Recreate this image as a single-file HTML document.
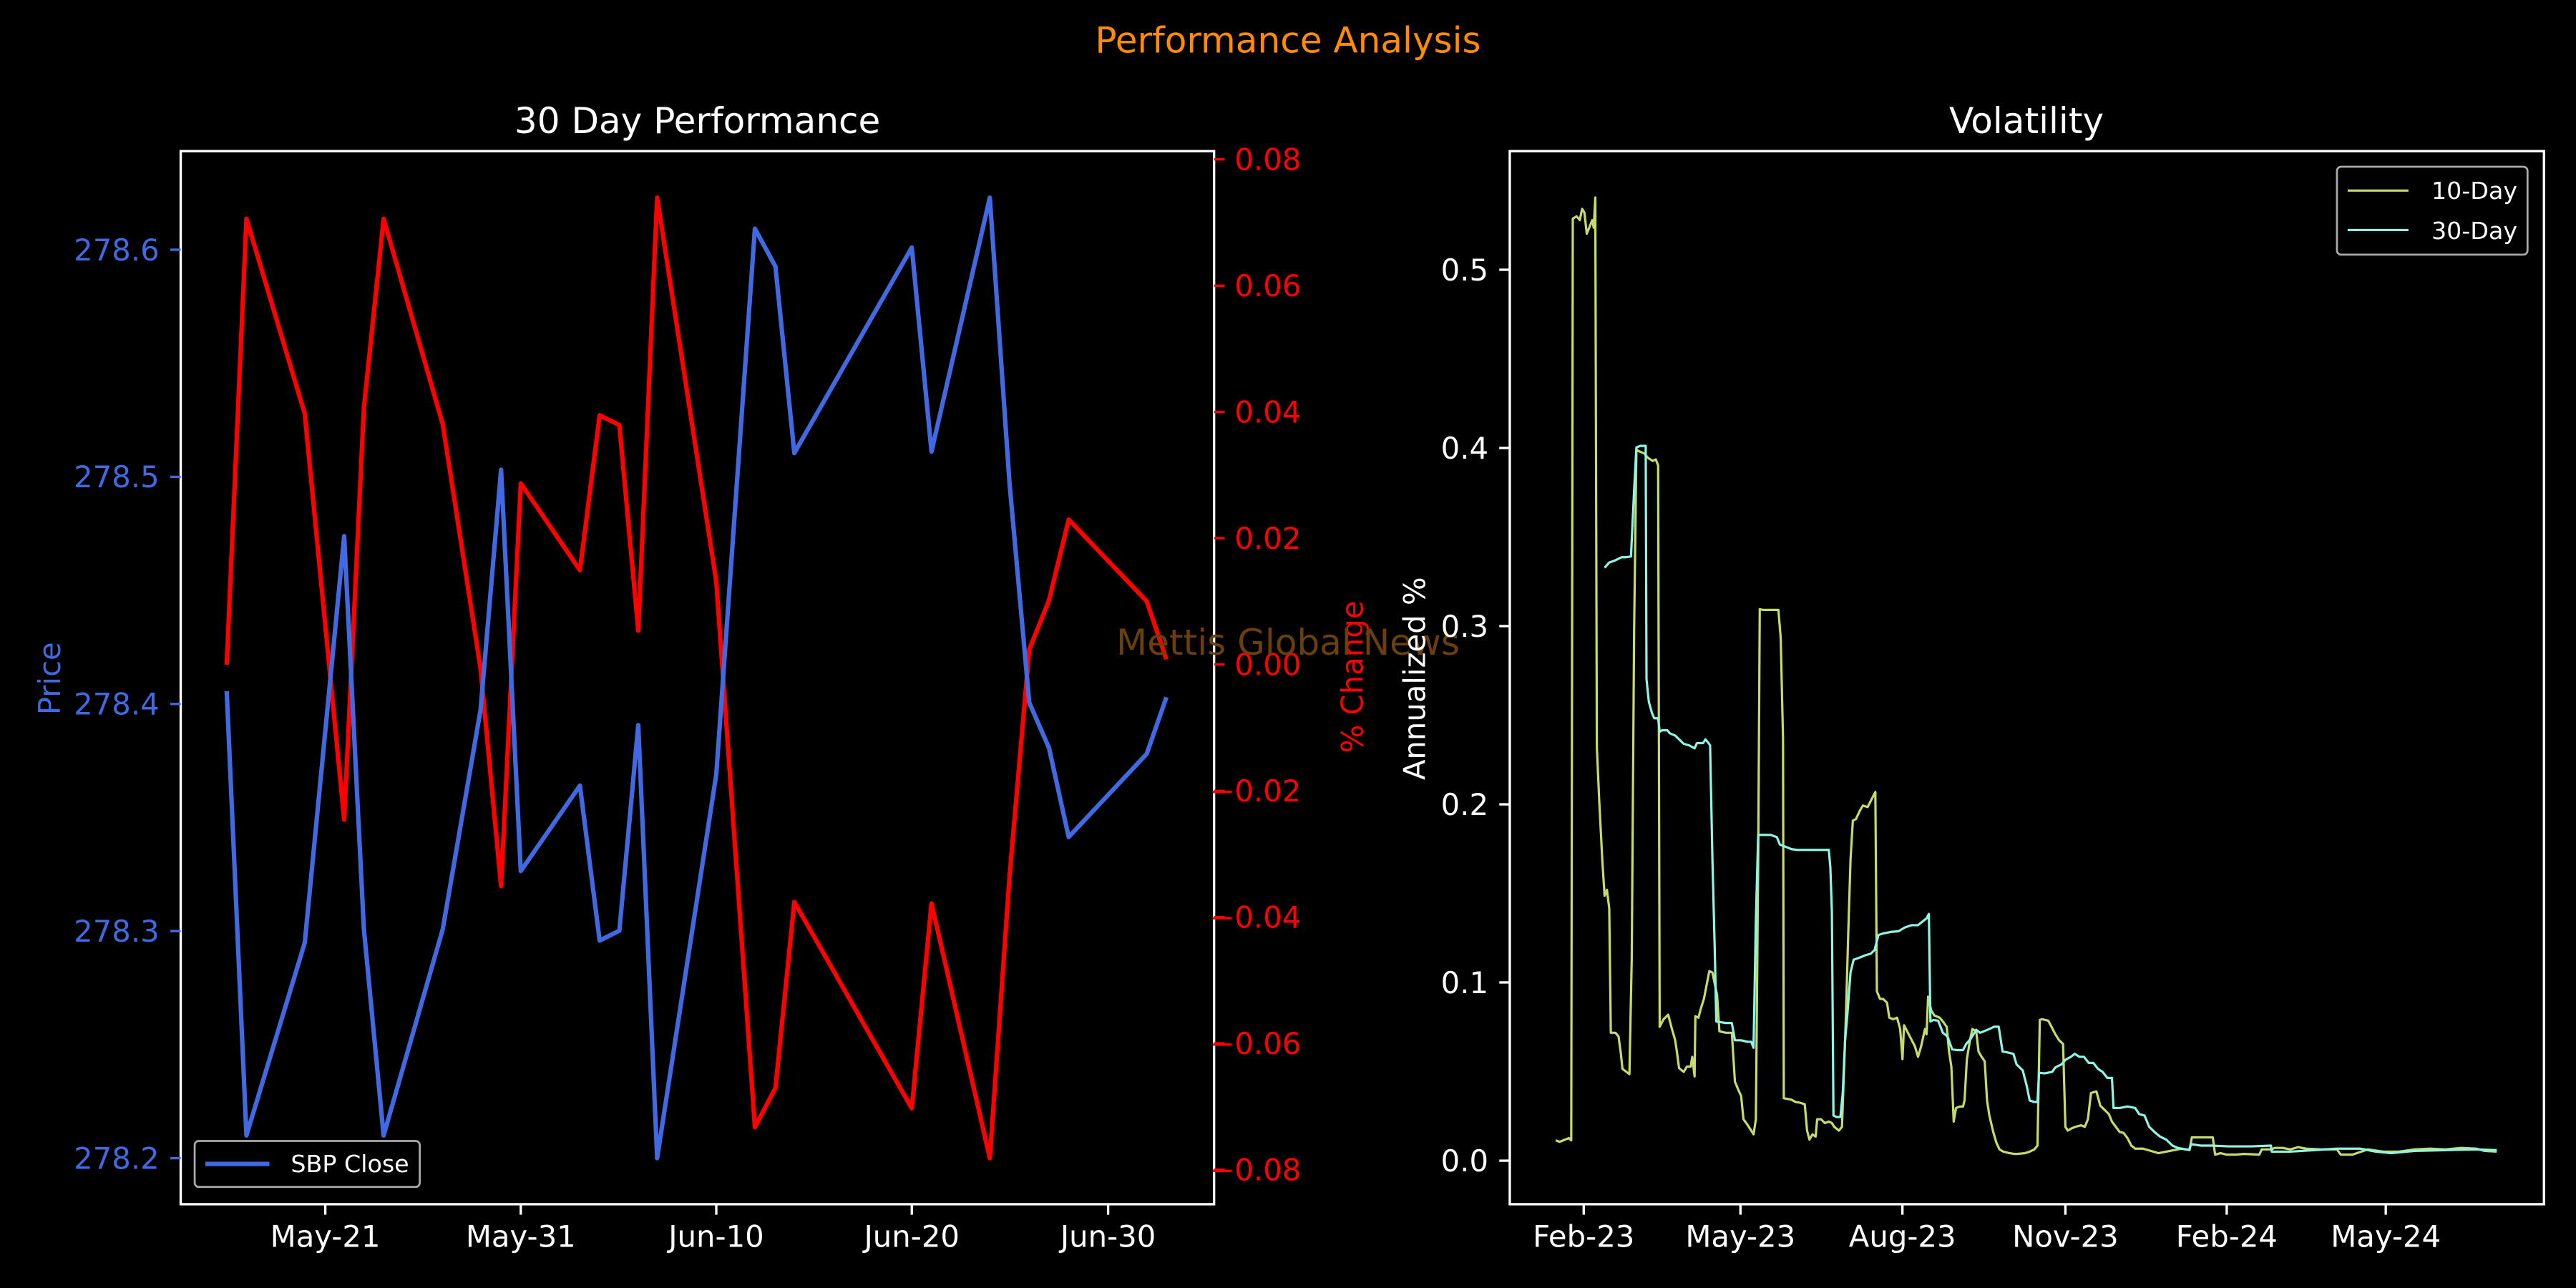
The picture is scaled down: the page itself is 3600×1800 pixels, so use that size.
<!DOCTYPE html>
<html><head><meta charset="utf-8"><style>
html,body{margin:0;padding:0;background:#000;}
svg{display:block;}
text{font-family:"DejaVu Sans","Liberation Sans",sans-serif;}
</style></head><body>
<svg width="3600" height="1800" viewBox="0 0 1568 784" preserveAspectRatio="none" xmlns="http://www.w3.org/2000/svg">
<rect width="1568" height="784" fill="#000"/>
<text x="784" y="32" fill="#ff8c00" font-size="21.8" text-anchor="middle">Performance Analysis</text>

<!-- LEFT PANEL -->
<text x="424.5" y="81" fill="#fff" font-size="21.8" text-anchor="middle">30 Day Performance</text>
<g transform="matrix(0.5,0,0,0.46,0,64.2)" fill="none" stroke-linejoin="round">
<polyline vector-effect="non-scaling-stroke" stroke="#ff0000" stroke-width="6.2" points="276,740 300,150 371,408 419,945 443,400 467,150 539,422 585,745 610,1033 634,500 706,615 730,410 754,423 777,695 800,122 872,630 919,1352 944,1300 967,1054 1110,1327 1134,1056 1205,1393 1229,1020 1253,720 1277,655 1301,548 1396,656 1420,733"/>
<polyline vector-effect="non-scaling-stroke" stroke="#4169e1" stroke-width="6.2" points="276,775 300,1363 371,1108 419,570 443,1090 467,1363 539,1090 585,800 610,482 634,1013 706,900 730,1105 754,1092 777,820 800,1393 872,885 919,163 944,213 967,460 1110,188 1134,458 1205,122 1229,500 1253,790 1277,850 1301,968 1396,858 1420,783"/>
</g>
<rect x="110" y="92" width="629" height="641" fill="none" stroke="#fff" stroke-width="1.45"/>
<g stroke="#fff" stroke-width="1.45">
<line x1="198" y1="733" x2="198" y2="739.4"/><line x1="317" y1="733" x2="317" y2="739.4"/><line x1="436" y1="733" x2="436" y2="739.4"/><line x1="555" y1="733" x2="555" y2="739.4"/><line x1="674.5" y1="733" x2="674.5" y2="739.4"/>
</g>
<g fill="#fff" font-size="18.2" text-anchor="middle">
<text x="198" y="759">May-21</text><text x="317" y="759">May-31</text><text x="436" y="759">Jun-10</text><text x="555" y="759">Jun-20</text><text x="674.5" y="759">Jun-30</text>
</g>
<g stroke="#4169e1" stroke-width="1.45">
<line x1="103.6" y1="152" x2="110" y2="152"/><line x1="103.6" y1="290.25" x2="110" y2="290.25"/><line x1="103.6" y1="428.5" x2="110" y2="428.5"/><line x1="103.6" y1="566.75" x2="110" y2="566.75"/><line x1="103.6" y1="705" x2="110" y2="705"/>
</g>
<g fill="#4169e1" font-size="18.2" text-anchor="end">
<text x="97" y="158.5">278.6</text><text x="97" y="296.7">278.5</text><text x="97" y="435">278.4</text><text x="97" y="573.2">278.3</text><text x="97" y="711.5">278.2</text>
</g>
<text transform="translate(36.5,413) rotate(-90)" fill="#4169e1" font-size="18.2" text-anchor="middle">Price</text>
<g stroke="#ff0000" stroke-width="1.45">
<line x1="739" y1="97" x2="745.4" y2="97"/><line x1="739" y1="173.9" x2="745.4" y2="173.9"/><line x1="739" y1="250.75" x2="745.4" y2="250.75"/><line x1="739" y1="327.6" x2="745.4" y2="327.6"/><line x1="739" y1="404.5" x2="745.4" y2="404.5"/><line x1="739" y1="481.4" x2="745.4" y2="481.4"/><line x1="739" y1="558.25" x2="745.4" y2="558.25"/><line x1="739" y1="635.1" x2="745.4" y2="635.1"/><line x1="739" y1="712" x2="745.4" y2="712"/>
</g>
<g fill="#ff0000" font-size="18.2" text-anchor="end">
<text x="792" y="103.5">0.08</text><text x="792" y="180.4">0.06</text><text x="792" y="257.2">0.04</text><text x="792" y="334.1">0.02</text><text x="792" y="411">0.00</text><text x="792" y="487.9">−0.02</text><text x="792" y="564.7">−0.04</text><text x="792" y="641.6">−0.06</text><text x="792" y="718.5">−0.08</text>
</g>
<text transform="translate(829.5,412) rotate(-90)" fill="#ff0000" font-size="18.2" text-anchor="middle">% Change</text>
<text x="784" y="398.5" fill="#6b3f0c" font-size="21.8" text-anchor="middle">Mettis Global News</text>
<rect x="118.5" y="694.5" width="137" height="28" rx="2.5" fill="#000" stroke="#aaa" stroke-width="1.2"/>
<line x1="125" y1="708.5" x2="164" y2="708.5" stroke="#4169e1" stroke-width="2.7"/>
<text x="177" y="713.5" fill="#fff" font-size="14.5">SBP Close</text>

<!-- RIGHT PANEL -->
<text x="1233.5" y="81" fill="#fff" font-size="21.8" text-anchor="middle">Volatility</text>
<g transform="matrix(0.4722,0,0,0.458,827.5,65.3)" fill="none" stroke-linejoin="round">
<polyline vector-effect="non-scaling-stroke" stroke="#c4dc6c" stroke-width="3.2" points="253,1373 258,1375 265,1372 270,1370 273,1373 275,148 280,145 284,150 287,135 290,140 293,168 297,158 300,150 302,160 304,120 306,850 309,920 313,1000 316,1048 319,1040 322,1065 324,1230 330,1230 334,1235 337,1258 339,1278 348,1285 351,1130 354,700 357,455 360,457 367,460 372,466 378,470 382,468 385,476 387,1222 392,1212 398,1206 402,1222 407,1240 409,1254 412,1277 418,1282 422,1275 427,1275 429,1262 432,1288 433,1208 437,1210 440,1198 444,1185 451,1148 455,1150 461,1180 464,1228 472,1230 480,1230 484,1295 488,1305 492,1314 495,1345 500,1352 505,1360 508,1365 511,1345 514,1000 516,667 520,668 540,668 543,705 546,840 547,1317 552,1318 557,1319 562,1322 568,1323 574,1325 577,1360 580,1372 584,1365 588,1368 590,1345 595,1345 600,1350 605,1348 609,1350 612,1355 618,1360 622,1355 627,1210 630,1100 633,1000 636,948 640,946 645,935 649,928 655,930 660,920 665,910 667,1175 671,1185 675,1185 680,1190 683,1210 688,1212 693,1210 697,1225 700,1265 702,1220 707,1230 712,1240 716,1248 720,1262 724,1248 729,1225 731,1232 733,1182 737,1200 741,1207 748,1210 752,1215 757,1222 760,1255 763,1275 766,1348 769,1330 774,1328 778,1328 780,1320 783,1265 787,1240 790,1225 795,1228 798,1255 802,1262 806,1268 809,1320 812,1340 817,1362 821,1376 825,1385 830,1388 838,1390 844,1391 848,1391 858,1390 864,1388 870,1385 874,1380 877,1213 880,1212 888,1214 892,1222 897,1232 902,1240 907,1245 910,1355 913,1360 918,1357 923,1355 930,1353 935,1355 939,1345 943,1310 950,1308 955,1327 961,1333 966,1338 970,1348 975,1355 980,1362 985,1363 990,1370 995,1380 1000,1384 1010,1384 1020,1387 1030,1390 1040,1388 1050,1386 1060,1384 1070,1386 1073,1369 1085,1369 1100,1369 1103,1392 1110,1390 1118,1392 1130,1392 1140,1391 1160,1392 1163,1385 1175,1385 1180,1383 1190,1383 1200,1385 1210,1382 1220,1384 1240,1385 1260,1385 1265,1392 1280,1392 1300,1385 1320,1388 1340,1388 1360,1385 1380,1384 1400,1385 1420,1383 1440,1384 1450,1387 1466,1388"/>
<polyline vector-effect="non-scaling-stroke" stroke="#8ff5e6" stroke-width="3.2" points="316,612 322,605 330,602 338,598 343,598 350,597 354,510 357,452 362,450 369,450 370,760 373,790 377,805 380,812 385,812 387,830 390,828 397,828 400,832 407,835 412,840 418,846 425,848 432,852 435,845 443,845 446,840 450,845 452,848 455,1000 458,1120 460,1215 466,1216 472,1217 480,1217 484,1240 492,1240 500,1242 505,1242 508,1250 511,1080 514,967 520,967 530,967 538,970 542,980 550,983 557,986 565,987 575,987 585,987 595,987 605,987 607,1010 609,1070 611,1340 615,1342 620,1342 623,1310 626,1240 629,1205 633,1150 637,1133 645,1130 652,1127 659,1125 664,1120 669,1100 675,1098 685,1096 695,1095 703,1090 712,1087 720,1087 726,1082 731,1078 734,1072 736,1215 740,1213 746,1214 752,1230 758,1235 764,1252 770,1253 778,1253 782,1245 788,1238 795,1226 800,1230 805,1228 812,1225 818,1222 824,1222 829,1255 835,1256 843,1258 847,1272 855,1280 860,1300 864,1320 870,1322 874,1322 876,1283 883,1284 893,1282 897,1276 905,1272 910,1266 917,1262 922,1258 928,1262 934,1262 940,1270 946,1270 952,1278 958,1282 964,1290 970,1290 972,1330 980,1330 990,1328 1000,1330 1005,1338 1012,1340 1018,1355 1025,1362 1032,1368 1040,1372 1048,1380 1055,1383 1065,1385 1070,1385 1072,1378 1085,1380 1100,1380 1120,1381 1150,1381 1175,1380 1176,1388 1200,1388 1230,1386 1260,1384 1290,1384 1310,1388 1330,1390 1360,1387 1400,1386 1440,1385 1466,1386"/>
</g>
<rect x="919" y="92" width="629.5" height="641" fill="none" stroke="#fff" stroke-width="1.45"/>
<g stroke="#fff" stroke-width="1.45">
<line x1="964" y1="733" x2="964" y2="739.4"/><line x1="1059.4" y1="733" x2="1059.4" y2="739.4"/><line x1="1158" y1="733" x2="1158" y2="739.4"/><line x1="1257.2" y1="733" x2="1257.2" y2="739.4"/><line x1="1355.4" y1="733" x2="1355.4" y2="739.4"/><line x1="1452.2" y1="733" x2="1452.2" y2="739.4"/>
<line x1="912.6" y1="706.5" x2="919" y2="706.5"/><line x1="912.6" y1="598" x2="919" y2="598"/><line x1="912.6" y1="489.6" x2="919" y2="489.6"/><line x1="912.6" y1="381.1" x2="919" y2="381.1"/><line x1="912.6" y1="272.7" x2="919" y2="272.7"/><line x1="912.6" y1="164.2" x2="919" y2="164.2"/>
</g>
<g fill="#fff" font-size="18.2" text-anchor="middle">
<text x="964" y="759">Feb-23</text><text x="1059.4" y="759">May-23</text><text x="1158" y="759">Aug-23</text><text x="1257.2" y="759">Nov-23</text><text x="1355.4" y="759">Feb-24</text><text x="1452.2" y="759">May-24</text>
</g>
<g fill="#fff" font-size="18.2" text-anchor="end">
<text x="906" y="713">0.0</text><text x="906" y="604.5">0.1</text><text x="906" y="496.1">0.2</text><text x="906" y="387.6">0.3</text><text x="906" y="279.2">0.4</text><text x="906" y="170.7">0.5</text>
</g>
<text transform="translate(867.5,413) rotate(-90)" fill="#fff" font-size="18.2" text-anchor="middle">Annualized %</text>
<rect x="1422.5" y="101.5" width="116" height="53.5" rx="2.5" fill="#000" stroke="#aaa" stroke-width="1.2"/>
<line x1="1429" y1="116" x2="1466" y2="116" stroke="#c4dc6c" stroke-width="1.4"/>
<text x="1480" y="121" fill="#fff" font-size="14.5">10-Day</text>
<line x1="1429" y1="140" x2="1466" y2="140" stroke="#8ff5e6" stroke-width="1.4"/>
<text x="1480" y="145.5" fill="#fff" font-size="14.5">30-Day</text>
</svg>
</body></html>
